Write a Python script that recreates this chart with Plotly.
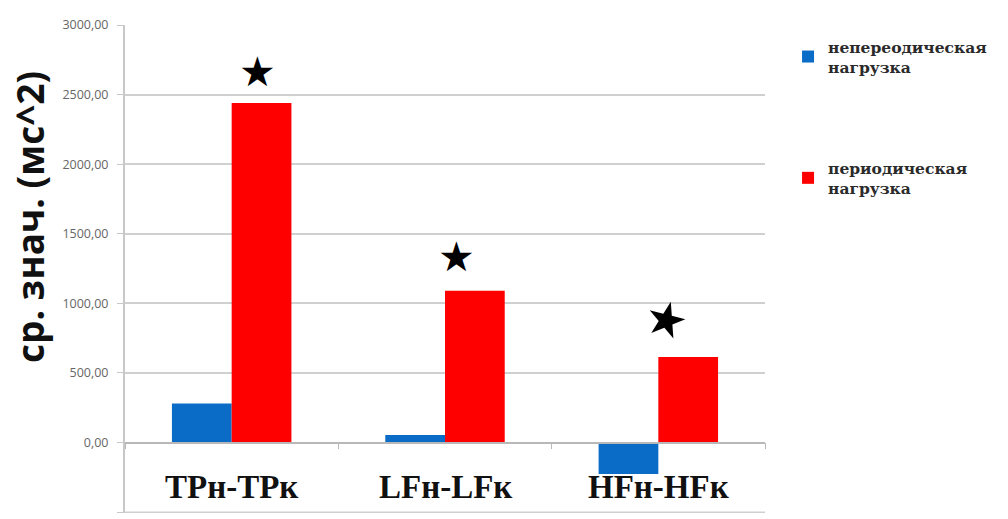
import plotly.graph_objects as go

# Data
categories = ["TPн-TPк", "LFн-LFк", "HFн-HFк"]
series_names = ["<b>непереодическая<br>нагрузка</b>", "<b>периодическая<br>нагрузка</b>"]
nonperiodic = [280, 55, -225]
periodic = [2440, 1090, 615]
star_levels = [2665, 1330, 885]
y_ticks = [-500, 0, 500, 1000, 1500, 2000, 2500, 3000]
y_tick_text = ["-500,00", "0,00", "500,00", "1000,00", "1500,00", "2000,00", "2500,00", "3000,00"]

BLUE = "#0b6cc8"
RED = "#ff0000"
GRID = "#d0d0d0"
Y_MIN, Y_MAX = -506, 3000

fig = go.Figure()
fig.add_trace(go.Bar(x=categories, y=nonperiodic, name=series_names[0],
                     legendgroup="g1",
                     marker=dict(color=BLUE, line=dict(width=0))))
fig.add_trace(go.Bar(x=categories, y=periodic, name=series_names[1],
                     legendgroup="g2",
                     marker=dict(color=RED, line=dict(width=0))))

# significance stars above the periodic bars
star_sizes = [41, 41, 48]
star_shift = [26, 11, 8]
star_angle = [0, 0, 14]
for i, c in enumerate(categories):
    fig.add_annotation(x=c, y=star_levels[i], xref="x", yref="y", text="★",
                       showarrow=False, xshift=star_shift[i],
                       textangle=star_angle[i],
                       font=dict(size=star_sizes[i], color="black",
                                 family="DejaVu Sans"))

# category labels under the zero line
for c in categories:
    fig.add_annotation(x=c, y=-320, xref="x", yref="y", text="<b>%s</b>" % c,
                       showarrow=False,
                       font=dict(size=33, color="#111111", family="Liberation Serif"))

# vertical axis title
fig.add_annotation(xref="paper", yref="paper", x=(29 - 125) / 640, y=(513 - 217) / 488,
                   text="<b>ср. знач. (мс^2)</b>",
                   showarrow=False, textangle=-90, xanchor="center", yanchor="middle",
                   font=dict(size=37, color="#111111", family="Open Sans"))

# gridline along the lower edge of the plot area
fig.add_hline(y=y_ticks[0], line=dict(color=GRID, width=1.5))

fig.update_layout(
    width=1008, height=519,
    margin=dict(l=125, r=243, t=25, b=6),
    paper_bgcolor="white", plot_bgcolor="white",
    barmode="group", bargap=0.44, bargroupgap=0,
    showlegend=True,
    legend=dict(x=1.036, y=0.99, xanchor="left", yanchor="top",
                font=dict(size=15.5, family="DejaVu Serif", color="#2a2a2a"),
                tracegroupgap=78, itemwidth=30, traceorder="grouped",
                bgcolor="rgba(0,0,0,0)"),
    xaxis=dict(anchor="free", position=-Y_MIN / (Y_MAX - Y_MIN), showline=True,
               linecolor="#b8b8b8", linewidth=1.5, ticks="outside",
               tickson="boundaries", ticklen=6, tickcolor="#b8b8b8",
               showticklabels=False, showgrid=False, zeroline=False),
    yaxis=dict(range=[Y_MIN, Y_MAX], tickvals=y_ticks, ticktext=y_tick_text,
               showgrid=True, gridcolor=GRID, gridwidth=1.5,
               showline=True, linecolor="#c8c8c8", linewidth=2,
               ticks="outside", ticklen=6, tickcolor="#c8c8c8",
               ticklabelstandoff=6, zeroline=False,
               tickfont=dict(size=12.5, color="#666666", family="Open Sans")),
)

fig.write_html("out.html")
